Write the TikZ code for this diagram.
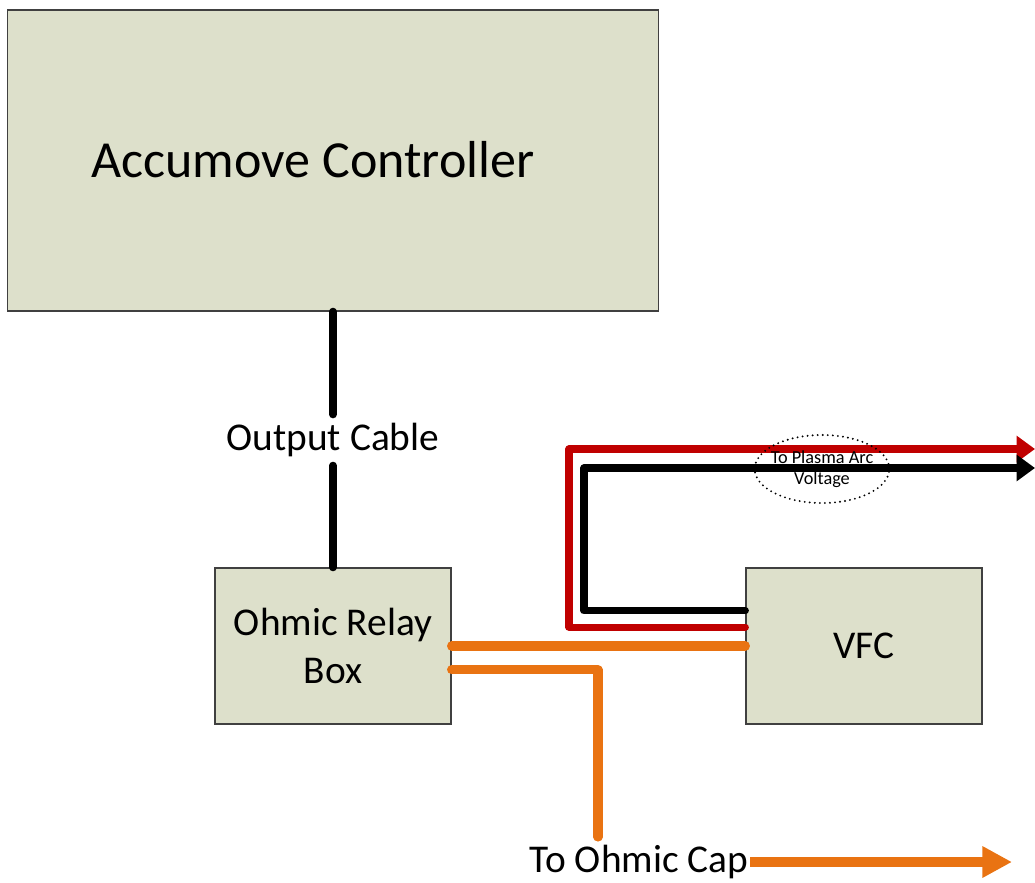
\documentclass[tikz,border=0pt]{standalone}
\usepackage{fontspec}
\setmainfont{Carlito}
\usepackage{xcolor}
\usepackage{tikz}
\usetikzlibrary{arrows.meta,shapes.geometric}

\definecolor{boxfill}{HTML}{DDE0CB}
\definecolor{wirered}{HTML}{C00000}
\definecolor{wireorange}{HTML}{E97312}

\tikzset{
  box/.style={draw=black!75, line width=0.8pt, fill=boxfill, inner sep=0pt},
  bigtext/.style={font=\fontsize{28}{34}\selectfont},
  blkwire/.style={draw=black, line width=5.5pt, line cap=round, line join=round},
  redwire/.style={draw=wirered, line width=5pt, line cap=round, line join=round},
  orwire/.style={draw=wireorange, line width=6.5pt, line cap=round, line join=round},
  tiptri/.style={-{Triangle[length=13pt,width=18pt]}},
  bigtip/.style={-{Triangle[length=21pt,width=21pt]}}
}

\begin{document}
\begin{tikzpicture}[x=0.025cm,y=-0.025cm]
\useasboundingbox (0,0) rectangle (1035,883);
  % boxes
  \node[box, minimum width=16.25cm, minimum height=7.525cm] (acc) at (333,160.5) {};
  \node[font=\fontsize{37}{44}\selectfont] (acctext) at (313,160) {Accumove Controller};
  \node[box, bigtext, align=center, minimum width=5.9cm, minimum height=3.9cm] (relay) at (333,646) {Ohmic Relay\\Box};
  \node[box, bigtext, minimum width=5.9cm, minimum height=3.9cm] (vfc) at (864,646) {VFC};
  % labels
  \node[bigtext, inner xsep=3pt, inner ysep=6pt] (cable) at (333,440) {Output Cable};
  \node[bigtext, inner sep=1pt] (ohmcap) at (639,862) {To Ohmic Cap};
  \coordinate (arcplus) at (1035,449);
  \coordinate (arcminus) at (1035,468);
  \coordinate (capdrop) at (598,837);
  \coordinate (capend) at (1012,862);
  % output cable
  \draw[blkwire] (acc.south) -- (cable) (cable) -- (relay.north);
  % arc voltage pair
  \draw[redwire, tiptri] ([yshift=13.5pt]vfc.west) -| (569,449) -- (arcplus);
  \draw[blkwire, line width=5pt, tiptri] ([yshift=25pt]vfc.west) -| (584,468) -- (arcminus);
  % ohmic wires
  \draw[orwire] (relay.east) -- (vfc.west);
  \draw[orwire] ([yshift=-17pt]relay.east) -| (capdrop);
  \draw[orwire, line cap=butt, bigtip] (ohmcap.east |- capend) -- (capend);
  % plasma arc tag
  \node[draw, ellipse, line width=1.5pt, dash pattern=on 0pt off 3.6pt, line cap=round,
    minimum width=3.25cm, minimum height=1.7cm, inner xsep=-2.6pt, inner ysep=0pt, align=center,
    font=\fontsize{13}{15}\selectfont] (arc) at (822,469) {To Plasma Arc\\Voltage};
\end{tikzpicture}
\end{document}
